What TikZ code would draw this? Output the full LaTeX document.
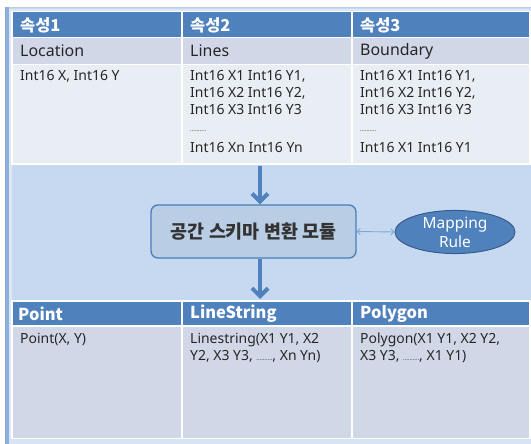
\documentclass[tikz,border=0pt]{standalone}
\usepackage{fontspec}
\setmainfont{Noto Sans}
\newfontfamily\kr{Noto Sans CJK KR}
\usetikzlibrary{arrows.meta,shapes.geometric}
\definecolor{hdr}{HTML}{4F81BD}
\definecolor{rowa}{HTML}{D0D8E8}
\definecolor{rowb}{HTML}{E9EDF4}
\definecolor{bgblue}{HTML}{C6D9F1}
\definecolor{boxfill}{HTML}{B9CDE5}
\definecolor{boxline}{HTML}{4A7EBB}
\definecolor{ellline}{HTML}{385D8A}
\definecolor{thinarr}{HTML}{7FA6D6}
\definecolor{framel}{HTML}{8EAEDA}
\tikzset{
  cell/.style={draw=white, line width=1.2bp},
  krhdr/.style={anchor=west, text=white, font=\kr\fontsize{16.5}{18}\selectfont\bfseries, inner sep=0pt},
  subtext/.style={anchor=west, text=black!85, font=\fontsize{16}{18}\selectfont, inner sep=0pt},
  bodytext/.style={anchor=north west, text=black!85, align=left, font=\fontsize{14}{17}\selectfont, inner sep=0pt},
  bigarrow/.style={draw=hdr, line width=4bp, -{Straight Barb[length=8bp,width=16bp,line width=4bp]}},
  thinarrow/.style={draw=thinarr, line width=0.9bp, {Straight Barb[length=3bp,width=6bp]}-{Straight Barb[length=3bp,width=6bp]}},
}
\newcommand{\dotsmall}{{\fontsize{6}{8}\selectfont ..........}}
\begin{document}
\begin{tikzpicture}[x=1bp,y=-1bp]
\useasboundingbox (0,0) rectangle (531,444);
% outer frame
\fill[bgblue] (5,7) rectangle (531,444);
\draw[framel!60, line width=1bp] (531,7.5) -- (5.5,7.5) -- (5.5,444);
\fill[framel] (5,7) rectangle (9,444);
\fill[white!40!bgblue] (9,9) rectangle (12,441);
\fill[white!40!bgblue] (9,9) rectangle (531,11);
\fill[white!30!bgblue] (9,439) rectangle (531,444);
% top table
\foreach \xa/\xb in {12/182,182/352,352/530}{
  \filldraw[cell, fill=hdr] (\xa,11.5) rectangle (\xb,37.5);
  \filldraw[cell, fill=rowa] (\xa,37.5) rectangle (\xb,64.5);
  \filldraw[cell, fill=rowb] (\xa,64.5) rectangle (\xb,164);
}
\node[krhdr] (h1) at (20,25) {속성1};
\node[krhdr] (h2) at (190,25) {속성2};
\node[krhdr] (h3) at (360,25) {속성3};
\node[subtext] (s1) at (20,51) {Location};
\node[subtext] (s2) at (190,51) {Lines};
\node[subtext] (s3) at (360,51) {Boundary};
\node[bodytext] (b1) at (20,70) {Int16 X, Int16 Y};
\node[bodytext] (b2) at (190,70) {Int16 X1 Int16 Y1,\\Int16 X2 Int16 Y2,\\Int16 X3 Int16 Y3\\\dotsmall\\[4bp]Int16 Xn Int16 Yn};
\node[bodytext] (b3) at (360,70) {Int16 X1 Int16 Y1,\\Int16 X2 Int16 Y2,\\Int16 X3 Int16 Y3\\\dotsmall\\[4bp]Int16 X1 Int16 Y1};
% bottom table
\foreach \xa/\xb in {12/182,182/352,352/530}{
  \filldraw[cell, fill=hdr] (\xa,301) rectangle (\xb,326);
  \filldraw[cell, fill=rowa] (\xa,326) rectangle (\xb,438.5);
}
\node[krhdr] (p1) at (18,314) {Point};
\node[krhdr] (p2) at (190,314) {LineString};
\node[krhdr] (p3) at (360,314) {Polygon};
\node[bodytext] (q1) at (20,333) {Point(X, Y)};
\node[bodytext] (q2) at (190,333) {Linestring(X1 Y1, X2\\Y2, X3 Y3, \dotsmall, Xn Yn)};
\node[bodytext] (q3) at (360,333) {Polygon(X1 Y1, X2 Y2,\\X3 Y3, \dotsmall, X1 Y1)};
% middle
\node[draw=boxline, fill=boxfill, line width=1.3bp, rounded corners=7bp,
      minimum width=205bp, minimum height=53bp, inner sep=0pt,
      font=\kr\fontsize{18.5}{20}\selectfont\bfseries, text=black!80] (mod) at (253.5,231.5) {공간 스키마 변환 모듈};
\node[ellipse, draw=ellline, fill=hdr, line width=1bp, minimum width=120bp, minimum height=42bp,
      inner sep=0pt, align=center, text=white, font=\fontsize{15.5}{19}\selectfont] (rule) at (455,232) {Mapping\\Rule};
\coordinate (a1s) at (260,166);
\coordinate (a2e) at (260,299);
\draw[bigarrow] (a1s) -- (a1s |- mod.north);
\draw[bigarrow] (a1s |- mod.south) -- (a2e);
\draw[thinarrow] (mod.east) -- (rule.west);
\end{tikzpicture}
\end{document}
